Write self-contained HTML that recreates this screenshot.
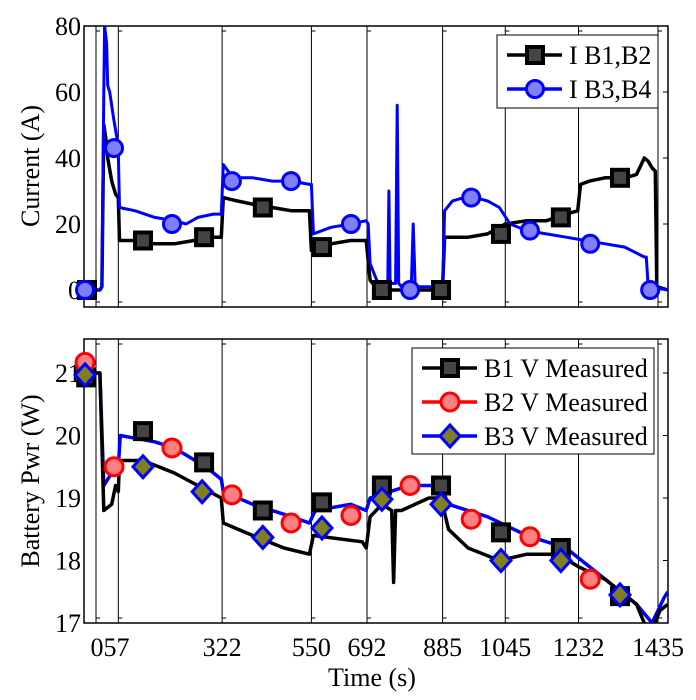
<!DOCTYPE html>
<html><head><meta charset="utf-8"><style>
body{margin:0;background:#fff}
svg{display:block;font-family:"Liberation Serif",serif}
</style></head><body>
<svg id="c" width="696" height="700" viewBox="0 0 696 700"></svg>
<script>
const gridTimes=[0,57,322,550,692,885,1045,1232,1435];
const xTickLabels=["","057","322","550","692","885","1045","1232","1435"];
const topYTicks=[0,20,40,60,80];
const botYTicks=[17,18,19,20,21];
// top series: I B1,B2
const ib12T=[-31,10,15,20,25,30,40,50,57,60,100,150,200,250,300,320,325,360,400,450,500,545,550,555,600,650,680,690,700,720,800,880,885,890,950,1000,1045,1100,1150,1200,1230,1237,1260,1300,1350,1380,1400,1410,1420,1428,1432,1460];
const ib12V=[0,0,1,50,46,40,33,29,28,15,15,14,14,15,16,16,28,27,26,25,24,24,12,13,14,15,15,15,3,0,0,0,1,16,16,17,20,21,21,23,24,32,33,34,34,35,40,39,37,36,1,0];
const ib34T=[-31,10,15,20,22,27,30,35,45,55,57,60,100,150,200,230,260,300,320,325,350,400,450,500,545,550,555,600,650,690,695,700,720,745,748,751,765,769,773,780,805,810,815,850,880,885,890,910,940,967,1000,1030,1057,1100,1150,1200,1250,1300,1350,1400,1405,1410,1460];
const ib34V=[0,0,1,60,80,75,62,60,52,45,42,25,24,22,21,20,22,23,23,38,34,34,33,33,32,32,17,19,20,21,20,8,2,2,30,2,2,56,2,1,1,20,1,1,1,1,24,27,28,28,27,25,20,18,17,16,15,14,13,10,10,1,0];
const ib12MT=[-23,120,276,426,577,730,881,1034,1187,1338];
const ib12MV=[0,15,16,25,13,0,0,17,22,34];
const ib34MT=[-28,46,194,347,498,651,802,958,1108,1262,1415];
const ib34MV=[0,43,20,33,33,20,0,28,18,14,0];
// bottom series
const b1T=[-31,10,20,40,50,57,60,120,200,260,320,325,400,480,545,555,680,690,700,730,755,760,765,780,850,880,885,900,950,1030,1100,1180,1232,1300,1380,1400,1420,1440,1460];
const b1V=[21,21,18.8,18.9,19.2,19.1,19.6,19.6,19.4,19.2,19.0,18.6,18.4,18.2,18.1,18.4,18.3,18.2,18.7,18.9,18.8,17.65,18.8,18.8,19.0,19.0,18.9,18.5,18.2,18.0,18.1,18.1,17.9,17.7,17.3,17.0,16.9,17.2,17.3];
const b3T=[-31,10,20,40,57,62,150,200,280,320,325,400,500,545,560,650,690,700,800,880,900,1000,1100,1200,1280,1380,1420,1450,1460];
const b3V=[21,21,19.2,19.4,19.5,20.0,19.9,19.8,19.5,19.3,19.1,18.9,18.7,18.6,18.8,18.9,18.8,19.0,19.2,19.2,18.9,18.7,18.4,18.2,17.8,17.3,17.0,17.4,17.5];
const b1MT=[-25,120,276,426,577,730,881,1034,1187,1338];
const b1MV=[20.93,20.07,19.57,18.8,18.93,19.2,19.2,18.45,18.2,17.43];
const b2MT=[-28,46,194,347,498,651,802,958,1108,1262];
const b2MV=[21.17,19.5,19.8,19.05,18.6,18.72,19.2,18.66,18.38,17.7];
const b3MT=[-28,120,271,426,577,730,881,1034,1187,1338];
const b3MV=[20.97,19.5,19.1,18.37,18.52,18.98,18.9,18.0,18.0,17.45];

const NS="http://www.w3.org/2000/svg";
const svg=document.getElementById('c');
const L=84,R=668;
const FS=26;
const x=t=>96+(t)*(562/1435);
const yT=v=>290-v*3.3;
const yB=v=>623-(v-17)*62.5;
function el(tag,attrs,parent){const e=document.createElementNS(NS,tag);for(const k in attrs)e.setAttribute(k,attrs[k]);(parent||svg).appendChild(e);return e;}
const defs=el('defs',{});
const c1=el('clipPath',{id:'ct'},defs);el('rect',{x:L,y:26,width:R-L,height:281},c1);
const c2=el('clipPath',{id:'cb'},defs);el('rect',{x:L,y:339,width:R-L,height:284},c2);

function panel(top,bot,yf,yticks,clip,name){
  const g=el('g',{});
  
  
  gridTimes.forEach(t=>{
    const l=el('line',{x1:x(t),x2:x(t),y1:top,y2:bot,stroke:'#000','stroke-width':1},g);
    
    
    el('line',{x1:x(t),x2:x(t)+4,y1:top+5,y2:top+5,stroke:'#000'},g);
    el('line',{x1:x(t),x2:x(t)+4,y1:bot-5,y2:bot-5,stroke:'#000'},g);
  });
  yticks.forEach(v=>{
    el('line',{x1:R-5,x2:R,y1:yf(v),y2:yf(v),stroke:'#000'},g);
    const tx=el('text',{x:L-3,y:yf(v)+9,'text-anchor':'end','font-size':FS},g);
    tx.textContent=v;
    
    
  });
  const r=el('rect',{x:L,y:top,width:R-L,height:bot-top,fill:'none',stroke:'#000','stroke-width':1.5},g);
  
  
  return g;
}
function line(T,V,yf,color,clip,name,w){
  const d=T.map((t,i)=>(i?'L':'M')+x(t).toFixed(1)+','+yf(V[i]).toFixed(1)).join('');
  const p=el('path',{d:d,fill:'none',stroke:color,'stroke-width':w||2.5,'stroke-linejoin':'round','clip-path':'url(#'+clip+')'});
  
  
}
function marker(type,cx,cy,parent){
  let m;
  if(type==='sq') m=el('rect',{x:cx-8,y:cy-8,width:16,height:16,fill:'#444',stroke:'#000','stroke-width':4},parent);
  else if(type==='bc') m=el('circle',{cx:cx,cy:cy,r:8.5,fill:'#8080ff',stroke:'#0000ff','stroke-width':3},parent);
  else if(type==='rc') m=el('circle',{cx:cx,cy:cy,r:9,fill:'#ff8080',stroke:'#ff0000','stroke-width':3},parent);
  else m=el('polygon',{points:`${cx},${cy-11} ${cx+10},${cy} ${cx},${cy+11} ${cx-10},${cy}`,fill:'#7f7f20',stroke:'#0000ff','stroke-width':3},parent);
  return m;
}
function markers(T,V,yf,type,name){
  T.forEach((t,i)=>{const m=marker(type,x(t),yf(V[i]));
    
    });
}
panel(26,307,yT,topYTicks,'ct','top-panel');
line(ib12T,ib12V,yT,'#000','ct','line-i-b1b2',3.5);
line(ib34T,ib34V,yT,'#0000ff','ct','line-i-b3b4',3);
markers(ib12MT,ib12MV,yT,'sq','marker-i-b1b2');
markers(ib34MT,ib34MV,yT,'bc','marker-i-b3b4');

panel(339,623,yB,botYTicks,'cb','bottom-panel');
line(b3T,b3V,yB,'#0000ff','cb','line-b3-v',3.5);
line(b1T,b1V,yB,'#000','cb','line-b1-v',3.5);
markers(b1MT,b1MV,yB,'sq','marker-b1-v');
markers(b2MT,b2MV,yB,'rc','marker-b2-v');
markers(b3MT,b3MV,yB,'dm','marker-b3-v');

gridTimes.forEach((t,i)=>{
  if(!xTickLabels[i])return;
  const tx=el('text',{x:i===1?110:x(t),y:656,'text-anchor':'middle','font-size':FS});
  tx.textContent=xTickLabels[i];
  
  
});
function txt(s,attrs,name){const t=el('text',attrs);t.textContent=s;return t;}
txt('Time (s)',{x:372,y:686,'text-anchor':'middle','font-size':FS},'x-axis-title');
txt('Current (A)',{x:0,y:0,transform:'translate(39,166) rotate(-90)','text-anchor':'middle','font-size':FS},'y-axis-title-top');
txt('Battery Pwr (W)',{x:0,y:0,transform:'translate(39,481) rotate(-90)','text-anchor':'middle','font-size':FS},'y-axis-title-bottom');

function legend(bx,by,bw,bh,items,name){
  const g=el('g',{});
  
  
  el('rect',{x:bx,y:by,width:bw,height:bh,fill:'#fff',stroke:'#000','stroke-width':1},g);
  items.forEach((it,i)=>{
    const cy=by+20+i*34;
    el('line',{x1:bx+10,x2:bx+65,y1:cy,y2:cy,stroke:it.c,'stroke-width':3.5},g);
    marker(it.m,bx+38,cy,g);
    const t=el('text',{x:bx+72,y:cy+9,'font-size':FS},g);
    t.textContent=it.l;
    
    
  });
}
legend(497,35,161,73,[{c:'#000',m:'sq',l:'I B1,B2'},{c:'#0000ff',m:'bc',l:'I B3,B4'}],'legend-top');
legend(412,348,242,106,[{c:'#000',m:'sq',l:'B1 V Measured'},{c:'#ff0000',m:'rc',l:'B2 V Measured'},{c:'#0000ff',m:'dm',l:'B3 V Measured'}],'legend-bottom');
</script>
</body></html>
